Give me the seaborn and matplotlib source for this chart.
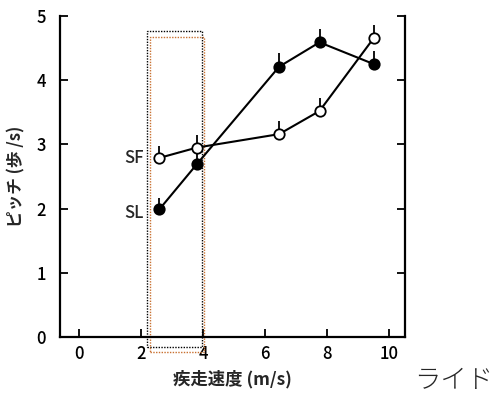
import matplotlib
matplotlib.use("Agg")
import matplotlib.pyplot as plt
import seaborn as sns
import pandas as pd
from matplotlib.patches import Rectangle

sns.set_theme(style="ticks")
plt.rcParams['font.family'] = ['Noto Sans CJK JP', 'DejaVu Sans']

speed = [2.6, 3.8, 6.45, 7.75, 9.5]
sf_pitch = [2.79, 2.95, 3.16, 3.52, 4.66]
sl_pitch = [1.99, 2.69, 4.21, 4.59, 4.25]
sf_err = [0.18, 0.2, 0.2, 0.2, 0.2]
sl_err = [0.18, 0.2, 0.22, 0.2, 0.2]
xticks = [0, 2, 4, 6, 8, 10]
yticks = [0, 1, 2, 3, 4, 5]

df = pd.concat([
    pd.DataFrame({"speed": speed, "pitch": sf_pitch, "err": sf_err, "series": "SF"}),
    pd.DataFrame({"speed": speed, "pitch": sl_pitch, "err": sl_err, "series": "SL"}),
])

fig = plt.figure(figsize=(4.99, 3.98), dpi=100)
ax = fig.add_axes([0.1202, 0.1533, 0.6914, 0.8065])

for name, fill in [("SF", "white"), ("SL", "black")]:
    d = df[df.series == name]
    ax.errorbar(d.speed, d.pitch, yerr=[[0]*len(d), d.err], fmt="none",
                ecolor="black", elinewidth=1.3, capsize=0, zorder=2)
    sns.lineplot(data=d, x="speed", y="pitch", ax=ax, color="black",
                 linewidth=1.5, marker="o", markersize=7.5,
                 markerfacecolor=fill, markeredgecolor="black",
                 markeredgewidth=1.3, zorder=3)

ax.set_xlim(-0.6, 10.5)
ax.set_ylim(0, 5)
ax.set_xticks(xticks)
ax.set_yticks(yticks)
ax.set_xticklabels([str(v) for v in xticks], fontweight="medium")
ax.set_yticklabels([str(v) for v in yticks], fontweight="medium")
ax.tick_params(direction="in", length=6, width=1.3, labelsize=12, colors="black")
ax.tick_params(axis="y", pad=10, right=True)
ax.tick_params(axis="x", pad=6)
ax.spines["top"].set_visible(False)
for s in ["left", "bottom", "right"]:
    ax.spines[s].set_linewidth(1.6)
    ax.spines[s].set_color("black")

ax.set_xlabel("疾走速度 (m/s)", fontsize=12.5, fontweight="bold", labelpad=5)
ax.set_ylabel("ピッチ (歩 /s)", fontsize=12, fontweight="bold", labelpad=8)

ax.text(2.1, 2.79, "SF", ha="right", va="center", fontsize=12, fontweight="medium")
ax.text(2.1, 1.93, "SL", ha="right", va="center", fontsize=12, fontweight="medium")

ax.add_patch(Rectangle((2.2, -0.16), 1.78, 4.93, fill=False, ec="black",
                       ls=(0, (1, 1)), lw=1.0, clip_on=False, zorder=1))
ax.add_patch(Rectangle((2.29, -0.23), 1.75, 4.9, fill=False, ec="#c87030",
                       ls=(0, (1, 1)), lw=1.0, clip_on=False, zorder=1))

fig.text(0.83, 0.045, "ライド", fontsize=19, fontweight="light", ha="left", va="center")

fig.savefig("out.png", dpi=100)
